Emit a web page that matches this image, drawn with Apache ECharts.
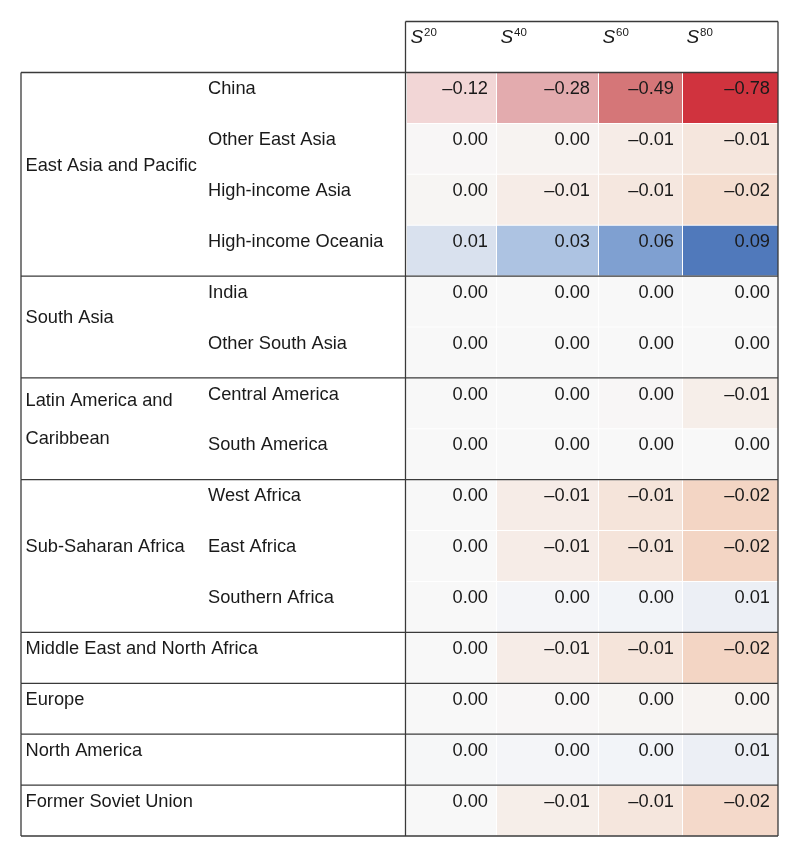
<!DOCTYPE html>
<html><head><meta charset="utf-8">
<script src="https://cdn.jsdelivr.net/npm/echarts@6/dist/echarts.min.js"></script>
<style>html,body{margin:0;padding:0;background:#fff}#c{width:800px;height:858px}</style>
</head><body><div id="c"></div>
<script>
// ---- data ----
const columnSup = ['20', '40', '60', '80'];
const regionNames = ['East Asia and Pacific', 'South Asia', 'Latin America and\nCaribbean', 'Sub-Saharan Africa',
  'Middle East and North Africa', 'Europe', 'North America', 'Former Soviet Union'];
const regionRowCounts = [4, 2, 2, 3, 1, 1, 1, 1];
const subregions = ['China', 'Other East Asia', 'High-income Asia', 'High-income Oceania', 'India', 'Other South Asia',
  'Central America', 'South America', 'West Africa', 'East Africa', 'Southern Africa', '', '', '', ''];
// estimated values (labels show them rounded to 2 decimals)
const s20 = [-0.12, -0.001, -0.002, 0.012, 0, 0, 0, 0, 0, 0, 0, 0, 0, 0.001, 0];
const s40 = [-0.28, -0.003, -0.007, 0.03, 0, 0, 0, 0, -0.007, -0.007, 0.002, -0.007, -0.001, 0.002, -0.006];
const s60 = [-0.49, -0.007, -0.01, 0.06, 0, 0, -0.001, 0, -0.012, -0.012, 0.003, -0.012, -0.002, 0.003, -0.011];
const s80 = [-0.78, -0.011, -0.016, 0.09, 0, 0, -0.006, 0, -0.02, -0.02, 0.006, -0.02, -0.003, 0.006, -0.018];

// ---- layout / style ----
const colWidths = [90, 102, 84, 96];
const colEdges = [0];
colWidths.forEach(w => colEdges.push(colEdges[colEdges.length - 1] + w));
const FONT = '"Liberation Sans", Arial, Helvetica, sans-serif';
const FS = '18.25px ';
const LINE = '#3a3a3a';
const TEXT = '#1a1a1a';
const TY = -8.8;
const colorStops = [
  [-0.78, [208, 51, 62]], [-0.49, [213, 118, 120]], [-0.28, [227, 171, 174]], [-0.12, [242, 214, 214]],
  [-0.02, [243, 213, 196]], [-0.012, [245, 228, 218]], [-0.006, [246, 238, 233]], [0, [248, 248, 248]],
  [0.003, [242, 244, 248]], [0.006, [236, 239, 245]], [0.012, [217, 225, 238]], [0.03, [173, 195, 226]],
  [0.06, [127, 160, 209]], [0.09, [80, 121, 187]]
];
function colorOf(v) {
  if (v <= colorStops[0][0]) return 'rgb(' + colorStops[0][1].join(',') + ')';
  for (let i = 1; i < colorStops.length; i++) {
    if (v <= colorStops[i][0]) {
      const [a, ca] = colorStops[i - 1], [b, cb] = colorStops[i];
      const t = (v - a) / (b - a);
      return 'rgb(' + ca.map((c, k) => Math.round(c + (cb[k] - c) * t)).join(',') + ')';
    }
  }
  return 'rgb(' + colorStops[colorStops.length - 1][1].join(',') + ')';
}
function fmt(v) {
  if (Math.abs(v) < 0.005) return '0.00';
  return (v < 0 ? '\u2013' : '') + Math.abs(v).toFixed(2);
}

const seriesCols = [s20, s40, s60, s80];
const cellData = [];
subregions.forEach((_, r) => seriesCols.forEach((arr, c) => cellData.push([c, r, arr[r]])));
const groupData = [];
let start = 0;
regionRowCounts.forEach((n, i) => { groupData.push([start, start + n - 1, i]); start += n; });

const chart = echarts.init(document.getElementById('c'), null, { renderer: 'canvas' });
const yCats = subregions.map((_, i) => String(i));

chart.setOption({
  animation: false,
  backgroundColor: '#fff',
  grid: { left: 406, right: 22, top: 72.5, bottom: 22 },
  xAxis: { type: 'value', min: 0, max: colEdges[colEdges.length - 1], show: false },
  yAxis: { type: 'category', data: yCats, inverse: true, show: false },
  series: [
    { // heatmap cells
      type: 'custom', clip: false, z: 1,
      data: cellData,
      renderItem(params, api) {
        const c = api.value(0), r = api.value(1), v = api.value(2);
        const xl = api.coord([colEdges[c], r])[0];
        const xr = api.coord([colEdges[c + 1], r])[0];
        const cy = api.coord([0, r])[1];
        const h = api.size([0, 1])[1];
        return {
          type: 'group', children: [
            { type: 'rect', shape: { x: xl + 1, y: cy - h / 2 + 0.5, width: xr - xl - 1, height: h - 1 },
              style: { fill: colorOf(v) } },
            { type: 'text', style: { x: xr - 8, y: cy + TY, text: fmt(v), align: 'right', verticalAlign: 'middle',
              font: FS + FONT, fill: TEXT } }
          ]
        };
      }
    },
    { // subregion labels
      type: 'custom', clip: false, z: 3,
      data: subregions.map((s, i) => [0, i]),
      renderItem(params, api) {
        const r = api.value(1);
        const cy = api.coord([0, r])[1];
        return { type: 'text', style: { x: 208, y: cy + TY, text: subregions[r], align: 'left', verticalAlign: 'middle',
          font: FS + FONT, fill: TEXT } };
      }
    },
    { // region groups, labels and borders
      type: 'custom', clip: false, z: 3,
      data: groupData,
      renderItem(params, api) {
        const a = api.value(0), b = api.value(1), gi = api.value(2);
        const h = api.size([0, 1])[1];
        const top = api.coord([0, a])[1] - h / 2;
        const bot = api.coord([0, b])[1] + h / 2;
        const xr = api.coord([colEdges[colEdges.length - 1], b])[0];
        const children = [
          { type: 'text', style: { x: 25.5, y: (top + bot) / 2 + TY, text: regionNames[gi], align: 'left',
            verticalAlign: 'middle', lineHeight: 38, font: FS + FONT, fill: TEXT } },
          { type: 'line', shape: { x1: 21, y1: bot, x2: xr, y2: bot }, style: { stroke: LINE, lineWidth: 1.3 } },
          { type: 'line', shape: { x1: 21, y1: top, x2: 21, y2: bot }, style: { stroke: LINE, lineWidth: 1.3 } }
        ];
        if (a === 0) children.push({ type: 'line', shape: { x1: 21, y1: top, x2: xr, y2: top },
          style: { stroke: LINE, lineWidth: 1.3 } });
        return { type: 'group', children };
      }
    },
    { // header
      type: 'custom', clip: false, z: 3,
      data: columnSup.map((s, i) => [i, 0]),
      renderItem(params, api) {
        const c = api.value(0);
        const n = subregions.length;
        const h = api.size([0, 1])[1];
        const gTop = api.coord([0, 0])[1] - h / 2;
        const gBot = api.coord([0, n - 1])[1] + h / 2;
        const xl = api.coord([colEdges[c], 0])[0];
        const children = [
          { type: 'text', style: { x: xl + 4.5, y: gTop - 34.5, text: 'S', align: 'left', verticalAlign: 'middle',
            font: 'italic 19px ' + FONT, fill: TEXT } },
          { type: 'text', style: { x: xl + 18, y: gTop - 40, text: columnSup[c], align: 'left', verticalAlign: 'middle',
            font: '11.5px ' + FONT, fill: TEXT } }
        ];
        if (c === 0) {
          const x0 = api.coord([0, 0])[0] - 0.5;
          const x1 = api.coord([colEdges[colEdges.length - 1], 0])[0];
          const hy = gTop - 51;
          children.push(
            { type: 'line', shape: { x1: x0, y1: hy, x2: x1, y2: hy }, style: { stroke: LINE, lineWidth: 1.3 } },
            { type: 'line', shape: { x1: x0, y1: hy, x2: x0, y2: gBot }, style: { stroke: LINE, lineWidth: 1.3 } },
            { type: 'line', shape: { x1: x1, y1: hy, x2: x1, y2: gBot }, style: { stroke: LINE, lineWidth: 1.3 } }
          );
        }
        return { type: 'group', children };
      }
    }
  ]
});
</script></body></html>
